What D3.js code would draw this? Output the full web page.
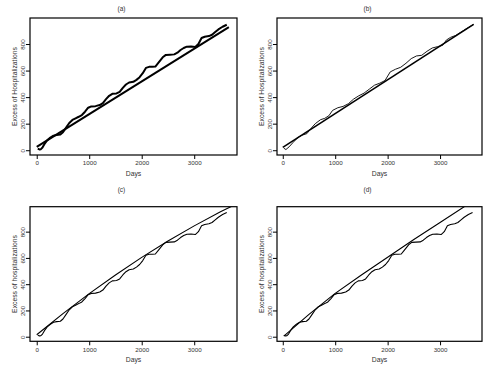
<!DOCTYPE html>
<html>
<head>
<meta charset="utf-8">
<script src="https://cdn.jsdelivr.net/npm/d3@7"></script>
<style>
  body { margin: 0; background: #fff; }
  svg { display: block; font-family: "Liberation Sans", Arial, Helvetica, sans-serif; }
</style>
</head>
<body>
<svg id="chart" width="500" height="368"></svg>
<script>
// tick values and labels
const xTicks = [0, 1000, 2000, 3000]
const yTicks = [0, 200, 400, 600, 800]
const panelTitles = ["(a)", "(b)", "(c)", "(d)"]
const yTitles = ["Excess of Hospitalizations", "Excess of Hospitalizations",
                 "Excess of hospitalizations", "Excess of hospitalizations"]
const xTitle = "Days"

// observed cumulative excess (wavy series in a, c, d)
const obsDays = [20, 50, 80, 110, 150, 200, 260, 320, 380, 450, 500, 560, 620, 680, 740, 800, 860, 920, 980,
  1040, 1120, 1200, 1260, 1320, 1380, 1440, 1520, 1580, 1640, 1700, 1760, 1840, 1900, 1960, 2020, 2080,
  2140, 2200, 2260, 2320, 2400, 2460, 2540, 2620, 2680, 2740, 2800, 2860, 2940, 3020, 3080, 3140, 3200,
  3280, 3340, 3400, 3460, 3540, 3620]
const obsValues = [12, 6, 8, 20, 48, 75, 95, 110, 115, 118, 135, 170, 205, 228, 240, 252, 265, 290, 320,
  330, 332, 340, 355, 385, 410, 425, 428, 440, 470, 495, 510, 515, 530, 550, 580, 620,
  628, 628, 630, 660, 700, 718, 720, 722, 735, 755, 770, 780, 782, 778, 800, 845, 855,
  860, 870, 890, 910, 930, 945]

// (a) linear trend
const trendADays = [0, 3660]
const trendAValues = [25, 928]

// (b) linear trend and seasonal model
const trendBDays = [0, 3640]
const trendBValues = [22, 948]
const seasBDays = [20, 60, 120, 200, 300, 380, 460, 540, 620, 720, 800, 880, 950, 1050, 1150, 1250, 1350,
  1450, 1550, 1650, 1750, 1850, 1950, 2050, 2150, 2250, 2350, 2450, 2550, 2650, 2750, 2850, 2950,
  3050, 3120, 3200, 3300, 3400, 3500, 3640]
const seasBValues = [15, 5, 25, 60, 100, 115, 125, 165, 200, 230, 240, 260, 300, 320, 330, 350, 385,
  410, 430, 460, 490, 505, 525, 590, 610, 625, 655, 690, 710, 715, 745, 770, 780,
  790, 830, 850, 865, 890, 915, 948]

// (c) quadratic fit
const quadCDays = [0, 500, 1000, 1500, 2000, 2500, 3000, 3500, 3750]
const quadCValues = [15, 176, 328, 470, 604, 729, 844, 951, 1000]

// (d) piecewise fit
const pieceDDays = [20, 500, 1000, 1500, 2000, 2500, 3000, 3500, 3650]
const pieceDValues = [5, 170, 330, 470, 605, 740, 870, 1000, 1040]

const zip = (xs, ys) => xs.map((x, i) => [x, ys[i]])

const panels = [
  {box: [30, 18, 237, 155], xDom: [-128, 3815], yDom: [-36, 996], titleY: 11.3,
   lines: [{d: zip(trendADays, trendAValues), w: 2}, {d: zip(obsDays, obsValues), w: 2}]},
  {box: [277, 18, 482, 155], xDom: [-110, 3800], yDom: [-36, 996], titleY: 11.3,
   lines: [{d: zip(trendBDays, trendBValues), w: 1.6}, {d: zip(seasBDays, seasBValues), w: 0.9}]},
  {box: [30, 206.7, 237, 341.3], xDom: [-128, 3815], yDom: [-35, 990], titleY: 192.3,
   lines: [{d: zip(quadCDays, quadCValues), w: 1.1}, {d: zip(obsDays, obsValues), w: 1.1}]},
  {box: [277, 206.7, 482, 341.3], xDom: [-110, 3800], yDom: [-35, 990], titleY: 192.3,
   lines: [{d: zip(pieceDDays, pieceDValues), w: 1.1}, {d: zip(obsDays, obsValues), w: 1.1}]}
]

const svg = d3.select("#chart")
const textColor = "#333"

panels.forEach((p, k) => {
  const [x0, y0, x1, y1] = p.box
  const xScale = d3.scaleLinear().domain(p.xDom).range([x0, x1])
  const yScale = d3.scaleLinear().domain(p.yDom).range([y1, y0])

  const g = svg.append("g")

  g.append("clipPath").attr("id", "clip" + k)
    .append("rect").attr("x", x0).attr("y", y0).attr("width", x1 - x0).attr("height", y1 - y0)

  let line = d3.line()
    .x(d => xScale(d[0]))
    .y(d => yScale(d[1]))

  p.lines.forEach(l => {
    g.append("path")
      .datum(l.d)
      .attr("clip-path", `url(#clip${k})`)
      .attr("fill", "none")
      .attr("stroke", "#000")
      .attr("stroke-width", l.w)
      .attr("stroke-linejoin", "round")
      .attr("d", line)
  })

  // frame
  g.append("rect")
    .attr("x", x0).attr("y", y0).attr("width", x1 - x0).attr("height", y1 - y0)
    .attr("fill", "none").attr("stroke", "#000").attr("stroke-width", 1.2)

  let xAxis = g.append("g")
    .attr("transform", `translate(0,${y1})`)
    .call(d3.axisBottom(xScale).tickValues(xTicks).tickSize(4).tickPadding(2).tickFormat(d3.format("d")))
  xAxis.select(".domain").remove()
  xAxis.selectAll("line").attr("stroke-width", 1)
  xAxis.selectAll("text").attr("font-size", 6.2).attr("fill", textColor).attr("font-family", null)

  let yAxis = g.append("g")
    .attr("transform", `translate(${x0},0)`)
    .call(d3.axisLeft(yScale).tickValues(yTicks).tickSize(4).tickFormat(d3.format("d")))
  yAxis.select(".domain").remove()
  yAxis.selectAll("line").attr("stroke-width", 1)
  yAxis.selectAll("text")
    .attr("transform", "rotate(-90)")
    .attr("x", 0).attr("y", -5.2).attr("dy", null)
    .attr("text-anchor", "middle")
    .attr("font-size", 6.2).attr("fill", textColor).attr("font-family", null)

  g.append("text")
    .attr("x", (x0 + x1) / 2).attr("y", y1 + 21)
    .attr("text-anchor", "middle").attr("font-size", 6.8).attr("fill", textColor)
    .text(xTitle)

  g.append("text")
    .attr("transform", `translate(${x0 - 13.5},${(y0 + y1) / 2}) rotate(-90)`)
    .attr("text-anchor", "middle").attr("font-size", 6.8).attr("fill", textColor)
    .text(yTitles[k])

  g.append("text")
    .attr("x", (x0 + x1) / 2 - 12).attr("y", p.titleY)
    .attr("text-anchor", "middle").attr("font-size", 6.5).attr("fill", textColor)
    .text(panelTitles[k])
})
</script>
</body>
</html>
